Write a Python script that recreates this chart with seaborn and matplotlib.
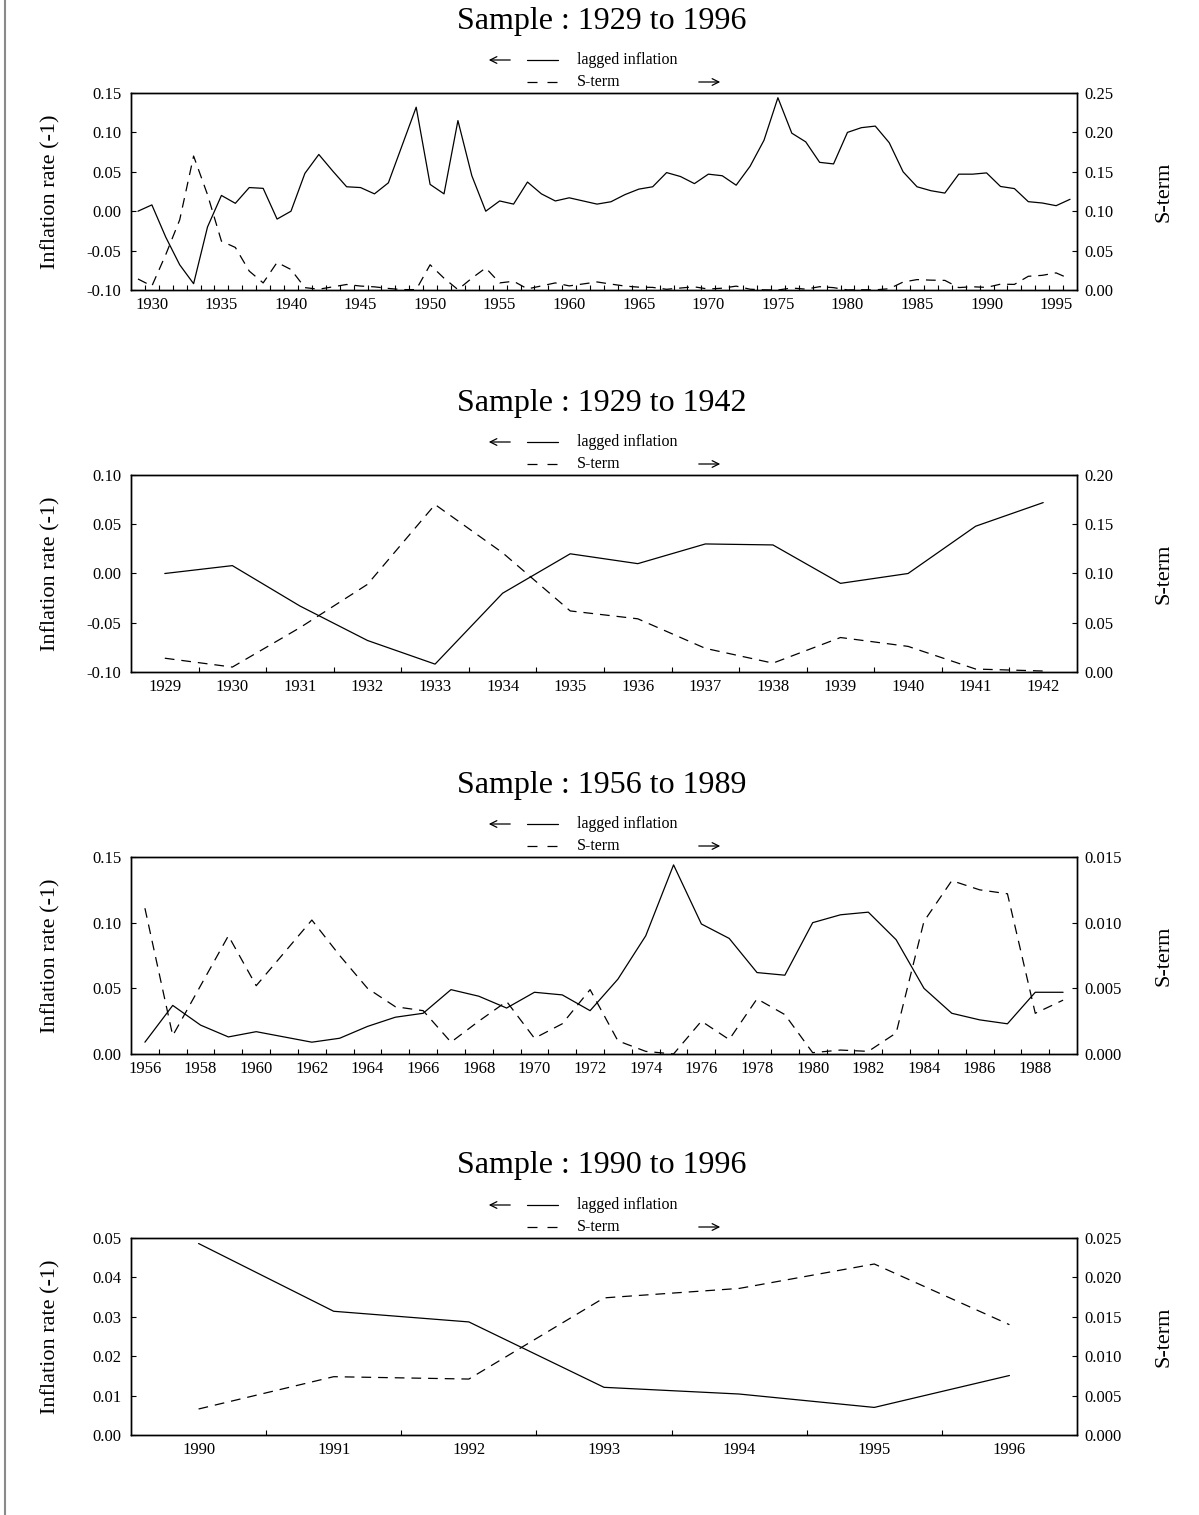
import numpy as np
import pandas as pd
import matplotlib
matplotlib.use("Agg")
import matplotlib.pyplot as plt
from matplotlib.lines import Line2D
from matplotlib.patches import FancyArrowPatch
from matplotlib.ticker import FormatStrFormatter
import seaborn as sns

# Annual series, 1929-1996
years = list(range(1929, 1997))

lagged_inflation = [
    0.000, 0.008, -0.033, -0.068, -0.092, -0.020, 0.020, 0.010, 0.030, 0.029,   # 1929-1938
    -0.010, 0.000, 0.048, 0.072, 0.051, 0.031, 0.030, 0.022, 0.036, 0.084,      # 1939-1948
    0.132, 0.034, 0.022, 0.115, 0.045, 0.000, 0.013, 0.009, 0.037, 0.022,       # 1949-1958
    0.013, 0.017, 0.013, 0.009, 0.012, 0.021, 0.028, 0.031, 0.049, 0.044,       # 1959-1968
    0.035, 0.047, 0.045, 0.033, 0.057, 0.090, 0.144, 0.099, 0.088, 0.062,       # 1969-1978
    0.060, 0.100, 0.106, 0.108, 0.087, 0.050, 0.031, 0.026, 0.023, 0.047,       # 1979-1988
    0.047, 0.0486, 0.0314, 0.0287, 0.0121, 0.0104, 0.0070, 0.0151,              # 1989-1996
]

s_term = [
    0.014, 0.005, 0.045, 0.089, 0.170, 0.121, 0.062, 0.054, 0.024, 0.009,       # 1929-1938
    0.035, 0.026, 0.003, 0.001, 0.004, 0.007, 0.005, 0.004, 0.002, 0.0005,      # 1939-1948
    0.0005, 0.032, 0.015, 0.0005, 0.015, 0.028, 0.009, 0.0111, 0.0014, 0.0052, # 1949-1958
    0.0090, 0.0052, 0.0077, 0.0102, 0.0075, 0.0050, 0.0036, 0.0033, 0.0009, 0.0025,  # 1959-1968
    0.0040, 0.0012, 0.0023, 0.0049, 0.0010, 0.0002, 0.0000, 0.0025, 0.0011, 0.0042,  # 1969-1978
    0.0030, 0.0001, 0.0003, 0.0002, 0.0016, 0.0101, 0.0132, 0.0125, 0.0122, 0.0031,  # 1979-1988
    0.0041, 0.0033, 0.0074, 0.0071, 0.0174, 0.0186, 0.0217, 0.0140,                  # 1989-1996
]

# Sub-samples and their axis settings
sample_ranges = [(1929, 1996), (1929, 1942), (1956, 1989), (1990, 1996)]
year_label_steps = [5, 1, 2, 1]
left_limits = [(-0.10, 0.15), (-0.10, 0.10), (0.0, 0.15), (0.0, 0.05)]
left_steps = [0.05, 0.05, 0.05, 0.01]
right_limits = [(0.0, 0.25), (0.0, 0.20), (0.0, 0.015), (0.0, 0.025)]
right_steps = [0.05, 0.05, 0.005, 0.005]
right_decimals = [2, 2, 3, 3]

df = pd.DataFrame({"year": years, "lagged inflation": lagged_inflation, "S-term": s_term})

sns.set_theme(style="ticks")
plt.rcParams["font.family"] = ["Liberation Serif", "DejaVu Serif"]
plt.rcParams["lines.scale_dashes"] = False
plt.rcParams["axes.edgecolor"] = "black"
plt.rcParams["axes.labelcolor"] = "black"
plt.rcParams["text.color"] = "black"
plt.rcParams["xtick.color"] = "black"
plt.rcParams["ytick.color"] = "black"
plt.rcParams["xtick.labelcolor"] = "black"
plt.rcParams["ytick.labelcolor"] = "black"

W, H = 1199, 1515
fig = plt.figure(figsize=(W / 100, H / 100), dpi=100)

def fx(px):
    return px / W

def fy(py):
    return 1 - py / H

ax_left, ax_right = 131, 1077
ax_tops = [93, 475, 857, 1238]
ax_h = 197
dash_pattern = (0, (7, 5))

for i, (lo, hi) in enumerate(sample_ranges):
    top = ax_tops[i]
    ax = fig.add_axes([fx(ax_left), fy(top + ax_h), fx(ax_right - ax_left), ax_h / H])
    ax2 = ax.twinx()
    sub = df[(df["year"] >= lo) & (df["year"] <= hi)]

    sns.lineplot(data=sub, x="year", y="lagged inflation", ax=ax, color="black", lw=0.9)
    sns.lineplot(data=sub, x="year", y="S-term", ax=ax2, color="black", lw=0.9)
    ax2.lines[-1].set_linestyle(dash_pattern)

    ax.set_xlim(lo - 0.5, hi + 0.5)
    ax.set_ylim(*left_limits[i])
    ax2.set_ylim(*right_limits[i])

    step = year_label_steps[i]
    first_label = lo if step == 1 else lo + (-lo) % step
    ax.set_xticks(np.arange(first_label, hi + 1, step))
    ax.set_xticks(np.arange(lo + 0.5, hi, 1.0), minor=True)
    ax.xaxis.set_major_formatter(FormatStrFormatter("%d"))
    ax.tick_params(axis="x", which="major", length=0, labelsize=12, pad=5)
    ax.tick_params(axis="x", which="minor", direction="in", length=3.6, width=0.8)

    llo, lhi = left_limits[i]
    ax.set_yticks(np.round(np.arange(llo, lhi + 1e-9, left_steps[i]), 4))
    ax.yaxis.set_major_formatter(FormatStrFormatter("%.2f"))
    ax.tick_params(axis="y", direction="in", length=3.6, width=0.8, labelsize=12, pad=7)

    rlo, rhi = right_limits[i]
    ax2.set_yticks(np.round(np.arange(rlo, rhi + 1e-9, right_steps[i]), 4))
    ax2.yaxis.set_major_formatter(FormatStrFormatter("%%.%df" % right_decimals[i]))
    ax2.tick_params(axis="y", direction="in", length=3.6, width=0.8, labelsize=12, pad=5)

    ax.set_xlabel("")
    ax.set_ylabel("Inflation rate (-1)", fontsize=16)
    ax.yaxis.set_label_coords((60 - ax_left) / (ax_right - ax_left), 0.5)
    ax2.set_ylabel("S-term", fontsize=16, rotation=90)
    ax2.yaxis.set_label_coords((1154 - ax_left) / (ax_right - ax_left), 0.5)

    for a in (ax, ax2):
        for sp in a.spines.values():
            sp.set_visible(True)
            sp.set_linewidth(1.0)
            sp.set_color("black")

    # Title and key above each panel
    fig.text(fx(602), fy(top - 72), f"Sample : {lo} to {hi}", ha="center", va="center", fontsize=23)

    row1, row2 = top - 33, top - 11
    fig.add_artist(Line2D([fx(527), fx(558)], [fy(row1), fy(row1)], color="black", lw=0.9))
    fig.add_artist(Line2D([fx(527), fx(558)], [fy(row2), fy(row2)], color="black", lw=0.9,
                          linestyle=(0, (7.2, 7.2))))
    fig.text(fx(577), fy(row1), "lagged inflation", ha="left", va="center", fontsize=11.5)
    fig.text(fx(577), fy(row2), "S-term", ha="left", va="center", fontsize=11.5)
    fig.add_artist(FancyArrowPatch((fx(513), fy(row1)), (fx(486), fy(row1)), transform=fig.transFigure,
                                   arrowstyle="->", mutation_scale=12, lw=0.9, color="black"))
    fig.add_artist(FancyArrowPatch((fx(696), fy(row2)), (fx(723), fy(row2)), transform=fig.transFigure,
                                   arrowstyle="->", mutation_scale=12, lw=0.9, color="black"))

# Page margin rule on the left
fig.add_artist(Line2D([fx(5), fx(5)], [0, 1], color="#8a8a8a", lw=1.5))

fig.savefig("out.png", dpi=100)
